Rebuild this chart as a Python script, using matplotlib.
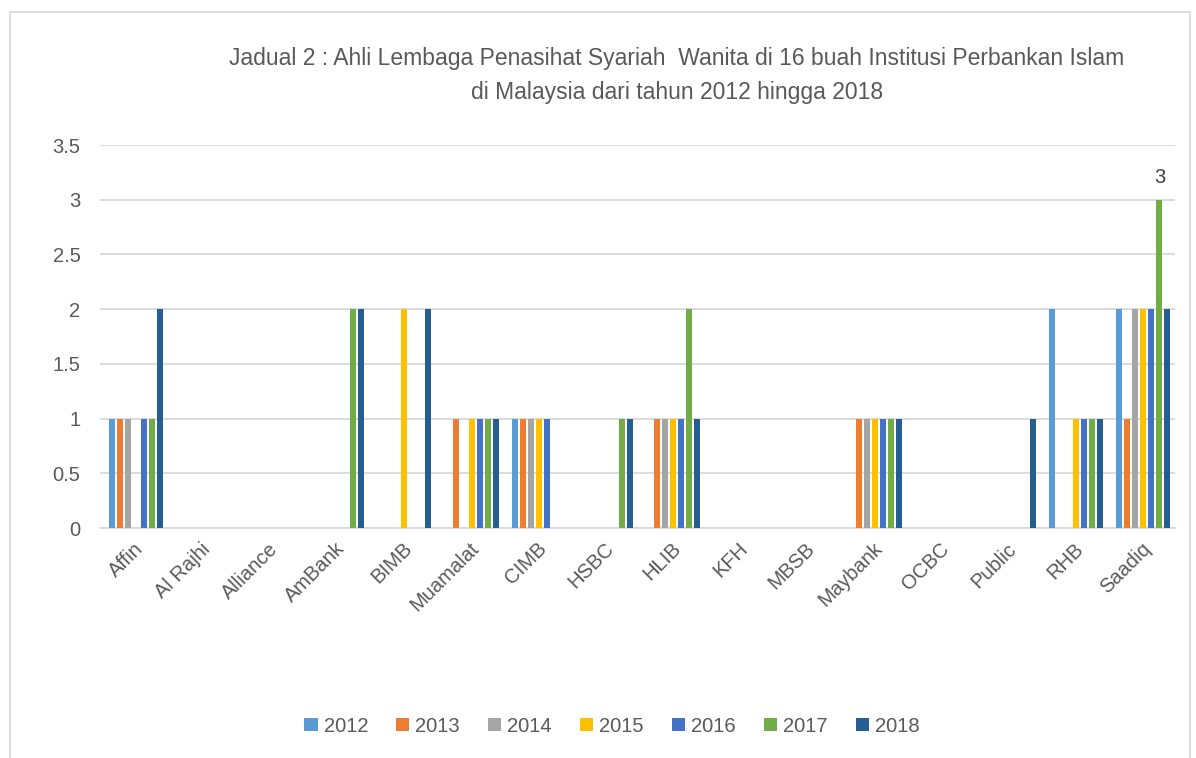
import matplotlib.pyplot as plt
from matplotlib.patches import Rectangle
import numpy as np

banks = ["Affin", "Al Rajhi", "Alliance", "AmBank", "BIMB", "Muamalat", "CIMB",
         "HSBC", "HLIB", "KFH", "MBSB", "Maybank", "OCBC", "Public", "RHB", "Saadiq"]
years = ["2012", "2013", "2014", "2015", "2016", "2017", "2018"]

y2012 = [1, 0, 0, 0, 0, 0, 1, 0, 0, 0, 0, 0, 0, 0, 2, 2]
y2013 = [1, 0, 0, 0, 0, 1, 1, 0, 1, 0, 0, 1, 0, 0, 0, 1]
y2014 = [1, 0, 0, 0, 0, 0, 1, 0, 1, 0, 0, 1, 0, 0, 0, 2]
y2015 = [0, 0, 0, 0, 2, 1, 1, 0, 1, 0, 0, 1, 0, 0, 1, 2]
y2016 = [1, 0, 0, 0, 0, 1, 1, 0, 1, 0, 0, 1, 0, 0, 1, 2]
y2017 = [1, 0, 0, 2, 0, 1, 0, 1, 2, 0, 0, 1, 0, 0, 1, 3]
y2018 = [2, 0, 0, 2, 2, 1, 0, 1, 1, 0, 0, 1, 0, 1, 1, 2]
series = [y2012, y2013, y2014, y2015, y2016, y2017, y2018]

colors = ["#5B9BD5", "#ED7D31", "#A5A5A5", "#FFC000", "#4472C4", "#70AD47", "#255E91"]
text_col = "#595959"

plt.rcParams['font.family'] = ['Liberation Sans', 'DejaVu Sans']

fig = plt.figure(figsize=(11.96, 7.58), dpi=100)
ax = fig.add_axes([100 / 1196, 1 - 528 / 758, 1075 / 1196, 383 / 758])

# chart area border
fig.patches.append(Rectangle((10 / 1196, -0.01), 1180 / 1196, 1 - 12 / 758 + 0.01,
                             transform=fig.transFigure, fill=False,
                             edgecolor="#d9d9d9", linewidth=1.2))

x = np.arange(len(banks))
step = 0.119
width = 0.09
for i, (vals, col, yr) in enumerate(zip(series, colors, years)):
    pos = x + (i - 3) * step + 0.03
    ax.bar(pos, vals, width=width, color=col, label=yr, zorder=3)

# data label for the max value
si = 5
bi = banks.index("Saadiq")
ax.text(x[bi] + (si - 3) * step + 0.03, series[si][bi] + 0.12, str(series[si][bi]),
        ha="center", va="bottom", fontsize=14.5, color="#404040")

ax.set_xlim(-0.5, len(banks) - 0.5)
ax.set_ylim(0, 3.5)
ax.set_yticks(np.arange(0, 3.51, 0.5))
ax.set_yticklabels(["0", "0.5", "1", "1.5", "2", "2.5", "3", "3.5"])
ax.set_xticks(x)
ax.set_xticklabels(banks, rotation=45, ha="right", rotation_mode="anchor")
ax.tick_params(axis="both", length=0, labelsize=14.5, colors=text_col)
ax.tick_params(axis="y", pad=14)
ax.tick_params(axis="x", pad=8)
ax.grid(axis="y", color="#d9d9d9", linewidth=1.3, zorder=0)
for s in ["top", "right", "left"]:
    ax.spines[s].set_visible(False)
ax.spines["bottom"].set_color("#d9d9d9")
ax.spines["bottom"].set_linewidth(1.3)

fig.text(677 / 1196, 1 - 58 / 758,
         "Jadual 2 : Ahli Lembaga Penasihat Syariah  Wanita di 16 buah Institusi Perbankan Islam",
         ha="center", va="center", fontsize=16.5, color=text_col)
fig.text(677 / 1196, 1 - 92 / 758, "di Malaysia dari tahun 2012 hingga 2018",
         ha="center", va="center", fontsize=16.5, color=text_col)

fig.legend(loc="center", bbox_to_anchor=(612 / 1196, 1 - 726 / 758), ncol=7,
           frameon=False, fontsize=14.5, labelcolor=text_col, handlelength=0.65,
           handleheight=0.65, handletextpad=0.3, columnspacing=1.4)

fig.savefig("out.png", dpi=100)
